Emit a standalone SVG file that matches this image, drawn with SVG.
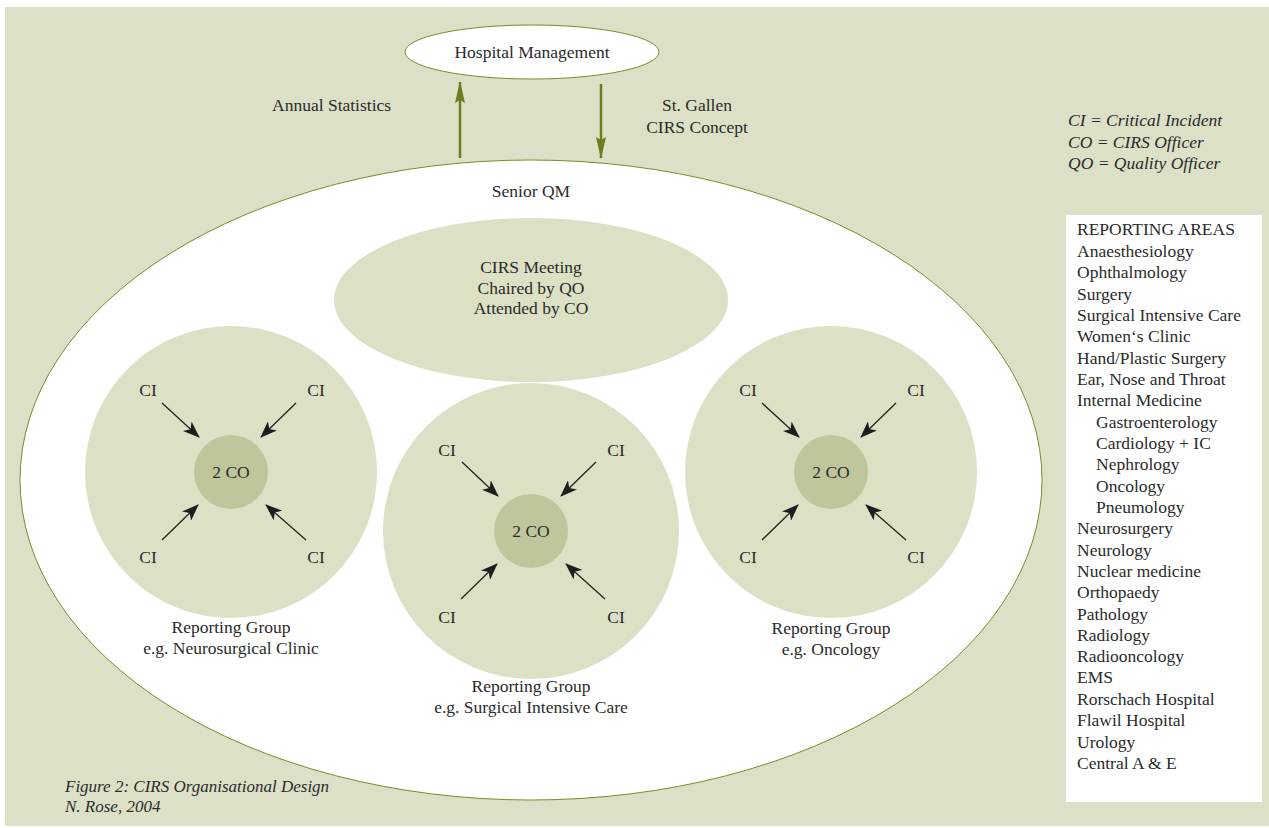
<svg xmlns="http://www.w3.org/2000/svg" width="1269" height="828" viewBox="0 0 1269 828">
<style>
text{font-family:"Liberation Serif","Times New Roman",serif;fill:#2b2b2b;font-size:17.5px}
.c{text-anchor:middle}
.i{font-style:italic}
.cap{font-size:17px}
.grp{fill:#dce0c5}
.co{fill:#c0c69c}
.ol{stroke:#7d8a2a;stroke-width:1}
.ci{stroke:#222;stroke-width:1.3;marker-end:url(#bh)}
.oa{stroke:#6e7d1c;stroke-width:2.5;marker-end:url(#oh)}
</style>
<defs>
<marker id="bh" viewBox="0 0 17 13" refX="16" refY="6.5" markerWidth="17" markerHeight="13" markerUnits="userSpaceOnUse" orient="auto">
<path d="M0,0 L17,6.5 L0,13 L4.5,6.5 z" fill="#1e1e1e"/>
</marker>
<marker id="oh" viewBox="0 0 22 10" refX="21" refY="5" markerWidth="22" markerHeight="10" markerUnits="userSpaceOnUse" orient="auto">
<path d="M0,0 L22,5 L0,10 L3,5 z" fill="#6e7d1c"/>
</marker>
</defs>
<rect x="0" y="0" width="1269" height="828" fill="#ffffff"/>
<rect x="5" y="7" width="1264" height="819" fill="#dce0c6"/>

<g id="senior-qm">
<ellipse cx="531" cy="480" rx="511" ry="320" fill="#ffffff" class="ol"/>
<text x="531" y="197" class="c">Senior QM</text>
</g>

<g id="hospital-management">
<ellipse cx="532" cy="52" rx="127" ry="27" fill="#ffffff" class="ol"/>
<text x="532" y="58" class="c">Hospital Management</text>
</g>

<g id="cirs-meeting">
<ellipse cx="531" cy="300" rx="197" ry="82" class="grp"/>
<text x="531" y="273" class="c">CIRS Meeting</text>
<text x="531" y="294" class="c">Chaired by QO</text>
<text x="531" y="314" class="c">Attended by CO</text>
</g>

<g id="group-neurosurgical">
<circle cx="231" cy="472" r="146" class="grp"/>
<circle cx="231" cy="472" r="37" class="co"/>
<text x="231" y="478" class="c">2 CO</text>
<text x="148" y="396" class="c">CI</text>
<text x="316" y="396" class="c">CI</text>
<text x="148" y="563" class="c">CI</text>
<text x="316" y="563" class="c">CI</text>
<text x="231" y="633" class="c">Reporting Group</text>
<text x="231" y="654" class="c">e.g. Neurosurgical Clinic</text>
</g>

<g id="group-sic">
<circle cx="531" cy="531" r="148" class="grp"/>
<circle cx="531" cy="531" r="37" class="co"/>
<text x="531" y="537" class="c">2 CO</text>
<text x="447" y="456" class="c">CI</text>
<text x="616" y="456" class="c">CI</text>
<text x="447" y="623" class="c">CI</text>
<text x="616" y="623" class="c">CI</text>
<text x="531" y="692" class="c">Reporting Group</text>
<text x="531" y="713" class="c">e.g. Surgical Intensive Care</text>
</g>

<g id="group-oncology">
<circle cx="831" cy="472" r="146" class="grp"/>
<circle cx="831" cy="472" r="37" class="co"/>
<text x="831" y="478" class="c">2 CO</text>
<text x="748" y="396" class="c">CI</text>
<text x="916" y="396" class="c">CI</text>
<text x="748" y="563" class="c">CI</text>
<text x="916" y="563" class="c">CI</text>
<text x="831" y="634" class="c">Reporting Group</text>
<text x="831" y="655" class="c">e.g. Oncology</text>
</g>

<g id="connectors">
<line x1="460" y1="158" x2="460" y2="82" class="oa"/>
<line x1="601" y1="84" x2="601" y2="158" class="oa"/>
<line x1="162" y1="403" x2="199" y2="437" class="ci"/>
<line x1="296" y1="403" x2="261" y2="437" class="ci"/>
<line x1="162" y1="540" x2="198" y2="505" class="ci"/>
<line x1="306" y1="540" x2="266" y2="505" class="ci"/>
<line x1="462" y1="462" x2="498" y2="496" class="ci"/>
<line x1="596" y1="462" x2="561" y2="496" class="ci"/>
<line x1="461" y1="599" x2="497" y2="564" class="ci"/>
<line x1="605" y1="599" x2="566" y2="564" class="ci"/>
<line x1="762" y1="403" x2="799" y2="437" class="ci"/>
<line x1="896" y1="403" x2="861" y2="437" class="ci"/>
<line x1="762" y1="540" x2="798" y2="505" class="ci"/>
<line x1="906" y1="540" x2="866" y2="505" class="ci"/>
</g>

<g id="flow-labels">
<text x="272" y="111">Annual Statistics</text>
<text x="697" y="111" class="c">St. Gallen</text>
<text x="697" y="133" class="c">CIRS Concept</text>
</g>

<g id="legend">
<text x="1068" y="126" class="i">CI = Critical Incident</text>
<text x="1068" y="148" class="i">CO = CIRS Officer</text>
<text x="1068" y="169" class="i">QO = Quality Officer</text>
</g>

<g id="reporting-areas">
<rect x="1066" y="215" width="196" height="587" fill="#ffffff"/>
<text x="1077" y="235">REPORTING AREAS</text>
<text x="1077" y="257">Anaesthesiology</text>
<text x="1077" y="278">Ophthalmology</text>
<text x="1077" y="300">Surgery</text>
<text x="1077" y="321">Surgical Intensive Care</text>
<text x="1077" y="342">Women‘s Clinic</text>
<text x="1077" y="364">Hand/Plastic Surgery</text>
<text x="1077" y="385">Ear, Nose and Throat</text>
<text x="1077" y="406">Internal Medicine</text>
<text x="1096" y="428">Gastroenterology</text>
<text x="1096" y="449">Cardiology + IC</text>
<text x="1096" y="470">Nephrology</text>
<text x="1096" y="492">Oncology</text>
<text x="1096" y="513">Pneumology</text>
<text x="1077" y="534">Neurosurgery</text>
<text x="1077" y="556">Neurology</text>
<text x="1077" y="577">Nuclear medicine</text>
<text x="1077" y="598">Orthopaedy</text>
<text x="1077" y="620">Pathology</text>
<text x="1077" y="641">Radiology</text>
<text x="1077" y="662">Radiooncology</text>
<text x="1077" y="683">EMS</text>
<text x="1077" y="705">Rorschach Hospital</text>
<text x="1077" y="726">Flawil Hospital</text>
<text x="1077" y="748">Urology</text>
<text x="1077" y="769">Central A &amp; E</text>
</g>

<g id="caption">
<text x="65" y="792" class="i cap">Figure 2: CIRS Organisational Design</text>
<text x="65" y="812" class="i cap">N. Rose, 2004</text>
</g>
</svg>
